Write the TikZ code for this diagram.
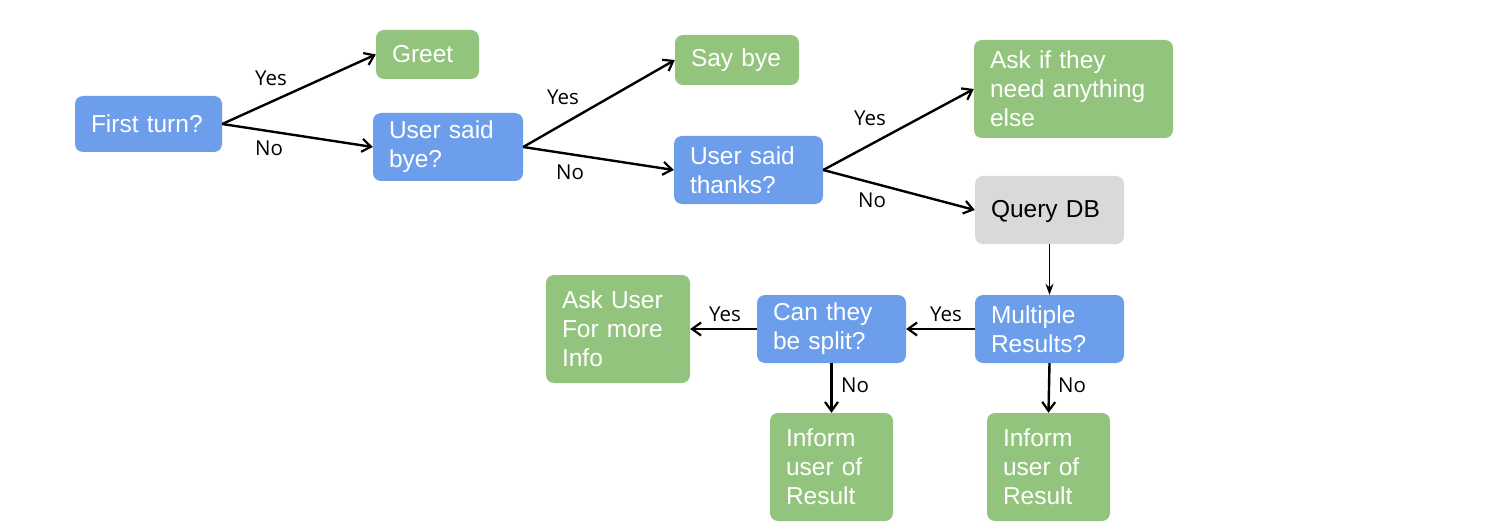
\documentclass[tikz,border=0pt]{standalone}
\usepackage{fontspec}
\setmainfont{Liberation Sans}
\newfontfamily\labfont{Open Sans}
\usetikzlibrary{arrows.meta}
\definecolor{qblue}{HTML}{6D9EEB}
\definecolor{qgreen}{HTML}{93C47D}
\definecolor{qgray}{HTML}{D9D9D9}
\begin{document}
\begin{tikzpicture}[x=1pt,y=-1pt,
  box/.style={rounded corners=8pt, inner xsep=16pt, inner ysep=0pt, align=left,
    font=\fontsize{24.5}{29}\selectfont, text=white},
  qbox/.style={box, fill=qblue},
  gbox/.style={box, fill=qgreen},
  ybox/.style={box, fill=qgray, text=black},
  conn/.style={line width=2.4pt, -{Straight Barb[length=9pt,width=13pt,line width=2.2pt]}},
  thin/.style={line width=1.3pt, -{Stealth[length=11pt,width=8pt]}},
  lab/.style={font=\labfont\fontsize{20.5}{24}\selectfont, inner sep=0pt}]
\useasboundingbox (0,0) rectangle (1492,532);
\fill[white] (0,0) rectangle (1492,532);
\node[qbox, text width=115pt, minimum height=56pt] (first) at (148.5,124) {First turn?};
\node[gbox, text width=71pt, minimum height=49pt] (greet) at (427.5,54.5) {Greet};
\node[qbox, text width=118pt, minimum height=68pt] (bye) at (448,147) {User said\\bye?};
\node[gbox, text width=92pt, minimum height=50pt] (saybye) at (737,60) {Say bye};
\node[qbox, text width=117pt, minimum height=68pt] (thanks) at (748.5,170) {User said\\thanks?};
\node[gbox, text width=167pt, minimum height=98pt] (ask) at (1073.5,89) {Ask if they\\need anything\\else};
\node[ybox, text width=117pt, minimum height=68pt, text height=16pt, text depth=0pt] (query) at (1049.5,210) {Query DB};
\node[qbox, text width=117pt, minimum height=68pt] (multi) at (1049.5,329) {Multiple\\Results?};
\node[qbox, text width=117pt, minimum height=68pt] (split) at (831.5,329) {Can they\\be split?};
\node[gbox, text width=112pt, minimum height=108pt] (askuser) at (618,329) {Ask User\\For more\\Info};
\node[gbox, text width=91pt, minimum height=108pt] (inf1) at (831.5,467) {Inform\\user of\\Result};
\node[gbox, text width=91pt, minimum height=108pt] (inf2) at (1048.5,467) {Inform\\user of\\Result};

\draw[conn] (first.east) -- (greet.west);
\draw[conn] (first.east) -- (bye.west);
\draw[conn] (bye.east) -- (saybye.west);
\draw[conn] (bye.east) -- (thanks.west);
\draw[conn] (thanks.east) -- (ask.west);
\draw[conn] (thanks.east) -- (query.west);
\draw[thin] (query.south) -- (multi.north);
\draw[conn] (multi.west) -- (split.east);
\draw[conn] (split.west) -- (askuser.east);
\draw[conn] (split.south) -- (inf1.north);
\draw[conn] (multi.south) -- (inf2.north);

\node[lab] (l1) at (271,78) {Yes};
\node[lab] (l2) at (269,148) {No};
\node[lab] (l3) at (563,97) {Yes};
\node[lab] (l4) at (570,172) {No};
\node[lab] (l5) at (870,118) {Yes};
\node[lab] (l6) at (872,200) {No};
\node[lab] (l7) at (946,314) {Yes};
\node[lab] (l8) at (725,314) {Yes};
\node[lab] (l9) at (855,385) {No};
\node[lab] (l10) at (1072,385) {No};
\end{tikzpicture}
\end{document}
